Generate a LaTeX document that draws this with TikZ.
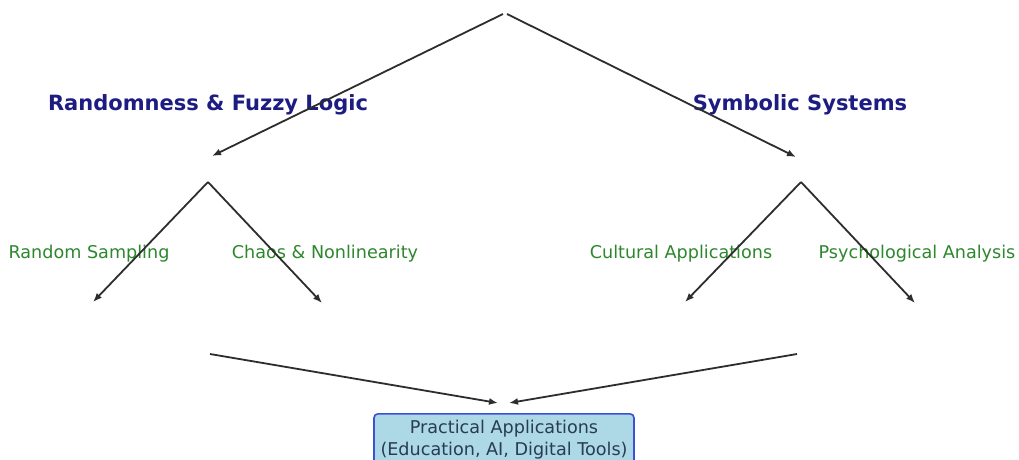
\documentclass[tikz,border=0pt]{standalone}
\usepackage{fontspec}
\setmainfont{DejaVu Sans}
\usetikzlibrary{arrows.meta}
\definecolor{titleblue}{RGB}{28,28,130}
\definecolor{leafgreen}{RGB}{45,135,45}
\definecolor{linegray}{RGB}{45,45,45}
\definecolor{boxfill}{RGB}{173,216,230}
\definecolor{boxedge}{RGB}{60,80,215}
\definecolor{boxtext}{RGB}{40,60,85}
\begin{document}
\begin{tikzpicture}[x=1pt,y=-1pt,
  link/.style={draw=linegray,line width=1.8pt,-{Latex[length=9pt,width=7pt]}},
  branch/.style={text=titleblue,font=\fontsize{21}{25}\selectfont\bfseries,anchor=base,inner sep=0pt},
  leaf/.style={text=leafgreen,font=\fontsize{17.6}{21}\selectfont,anchor=base,inner sep=0pt},
  result/.style={draw=boxedge,fill=boxfill,line width=1.6pt,rounded corners=4pt,
    text=boxtext,font=\fontsize{17.6}{22}\selectfont,align=center,
    minimum width=260pt,inner ysep=6.6pt,anchor=north}]
\useasboundingbox (0,0) rectangle (1019,459);
\fill[white] (0,0) rectangle (1019,459);

% hub points of the tree
\coordinate (rootL) at (503,14);
\coordinate (rootR) at (507,14);
\coordinate (inL) at (212,156);
\coordinate (inR) at (796,157);
\coordinate (hubL) at (208,182);
\coordinate (hubR) at (801,182);
\coordinate (sampleEnd) at (93,302);
\coordinate (chaosEnd) at (322,303);
\coordinate (cultureEnd) at (685,302);
\coordinate (psychEnd) at (915,303);
\coordinate (mergeL) at (210,354);
\coordinate (mergeR) at (797,354);
\coordinate (resL) at (498,403);
\coordinate (resR) at (509,403);

% labels
\node[branch] (rand) at (208,110) {Randomness \& Fuzzy Logic};
\node[branch] (symb) at (800,110) {Symbolic Systems};
\node[leaf] (sample) at (89,258) {Random Sampling};
\node[leaf] (chaos) at (325,258) {Chaos \& Nonlinearity};
\node[leaf] (culture) at (681,258) {Cultural Applications};
\node[leaf] (psych) at (917,258) {Psychological Analysis};
\node[result] (practical) at (504,413) {Practical Applications\\(Education, AI, Digital Tools)};

% connectors
\draw[link] (rootL) -- (inL);
\draw[link] (rootR) -- (inR);
\draw[link] (hubL) -- (sampleEnd);
\draw[link] (hubL) -- (chaosEnd);
\draw[link] (hubR) -- (cultureEnd);
\draw[link] (hubR) -- (psychEnd);
\draw[link] (mergeL) -- (resL);
\draw[link] (mergeR) -- (resR);
\end{tikzpicture}
\end{document}
